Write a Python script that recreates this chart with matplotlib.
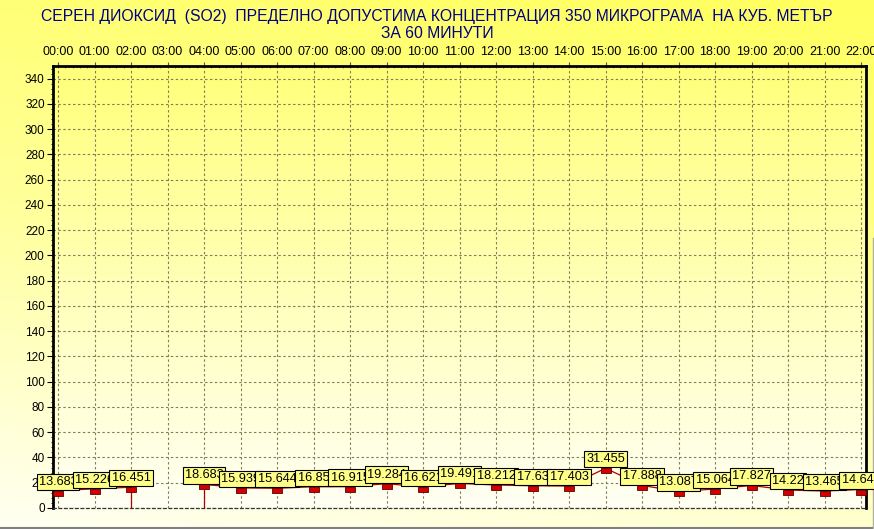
import numpy as np
import matplotlib
matplotlib.use('Agg')
import matplotlib.pyplot as plt
from matplotlib.path import Path
from matplotlib.colors import LinearSegmentedColormap
from matplotlib.ticker import MultipleLocator

plt.rcParams['font.family'] = ['Liberation Sans', 'DejaVu Sans']

# ── data (hourly SO2, µg/m3; 03:00 missing) ─────────────────────────
hours = ['00:00', '01:00', '02:00', '03:00', '04:00', '05:00', '06:00', '07:00',
         '08:00', '09:00', '10:00', '11:00', '12:00', '13:00', '14:00', '15:00',
         '16:00', '17:00', '18:00', '19:00', '20:00', '21:00', '22:00']
values = [13.683, 15.226, 16.451, None, 18.683, 15.939, 15.644, 16.85,
          16.915, 19.284, 16.621, 19.491, 18.212, 17.63, 17.403, 31.455,
          17.888, 13.087, 15.064, 17.827, 14.22, 13.465, 14.645]

title = ('СЕРЕН ДИОКСИД  (SO2)  ПРЕДЕЛНО ДОПУСТИМА КОНЦЕНТРАЦИЯ 350 МИКРОГРАМА  НА КУБ. МЕТЪР\n'
         'ЗА 60 МИНУТИ')

W, H = 874, 529
fig = plt.figure(figsize=(W / 100, H / 100), dpi=100)

# outer background gradient (yellow top -> pale bottom)
bg = fig.add_axes([0, 0, 1, 1], zorder=-10)
outer_cmap = LinearSegmentedColormap.from_list('outer', ['#ffff5e', '#ffff9a', '#fffff2'])
yy = np.linspace(0, 1, 256).reshape(-1, 1)
xx = np.linspace(0, 1, 64).reshape(1, -1)
grad = yy * 0.8 + (1 - xx) * 0.2
bg.imshow(grad, aspect='auto', cmap=outer_cmap, extent=[0, 1, 0, 1], origin='upper')
bg.plot([0, 1], [1.5 / H, 1.5 / H], color='#808080', lw=1.5)
bg.plot([1 - 0.8 / W, 1 - 0.8 / W], [0, 0.55], color='#b0b0a0', lw=1)
bg.set_xlim(0, 1)
bg.set_ylim(0, 1)
bg.axis('off')

# plot area: x 53..866 px, y 66..508 px
left, right, top, bottom = 53, 866, 66, 508
ax = fig.add_axes([left / W, (H - bottom) / H, (right - left) / W, (bottom - top) / H])

x = np.arange(len(hours))
pad = 5 / 36.5
ax.set_xlim(-pad, len(hours) - 1 + pad)
ax.set_ylim(0, 350)

inner_cmap = LinearSegmentedColormap.from_list('inner', ['#ffff7a', '#ffffb8', '#fffff4'])
ax.imshow(np.linspace(0, 1, 256).reshape(-1, 1), aspect='auto', cmap=inner_cmap,
          extent=[-pad, len(hours) - 1 + pad, 0, 350], origin='upper', zorder=0)

# grid
ax.set_xticks(x)
ax.set_xticklabels(hours)
ax.set_yticks(np.arange(0, 341, 20))
ax.yaxis.set_minor_locator(MultipleLocator(4))
ax.xaxis.set_minor_locator(MultipleLocator(0.2))
ax.grid(True, which='major', color='#7f7f58', linestyle=(0, (2.2, 2.2)), lw=0.8, zorder=1)
ax.xaxis.tick_top()
ax.tick_params(axis='x', which='major', top=True, bottom=False, length=3, width=0.8,
               color='#555555', labelsize=9, pad=2.5)
ax.tick_params(axis='x', which='minor', top=True, bottom=False, length=1.5, width=0.6,
               color='#777777', direction='in')
ax.tick_params(axis='y', which='major', length=4, width=0.8, labelsize=8.5, pad=2)
ax.tick_params(axis='y', which='minor', length=1.5, width=0.6)

for s in ('left', 'top', 'right'):
    ax.spines[s].set_linewidth(2)
    ax.spines[s].set_color('black')
ax.spines['bottom'].set_linestyle((0, (2.2, 2.2)))
ax.spines['bottom'].set_linewidth(0.9)
ax.spines['bottom'].set_color('#333333')

# series line; missing hour drops to zero
vals = np.array([np.nan if v is None else v for v in values])
ax.plot(x, vals, color='#b00000', lw=0.9, zorder=3, clip_on=False)
for i, v in enumerate(values):
    if v is None:
        continue
    prev_missing = i > 0 and values[i - 1] is None
    next_missing = i < len(values) - 1 and values[i + 1] is None
    if prev_missing or next_missing:
        ax.plot([x[i], x[i]], [0, v], color='#b00000', lw=0.9, zorder=3)

# markers: small red rectangles hanging under each point
rect = Path([(-1, 0), (1, 0), (1, -1), (-1, -1), (-1, 0)],
            [Path.MOVETO, Path.LINETO, Path.LINETO, Path.LINETO, Path.CLOSEPOLY])
ax.plot(x, vals, linestyle='none', marker=rect, markersize=6.5, markerfacecolor='#d40000',
        markeredgecolor='#600000', markeredgewidth=0.6, zorder=4, clip_on=False)

# value marks
for i, v in enumerate(values):
    if v is None:
        continue
    ax.annotate(f'{v:g}', (x[i], v), xytext=(0, 6.5), textcoords='offset points',
                ha='center', va='center', fontsize=9.2, color='black', zorder=5 + i * 0.01,
                annotation_clip=False,
                bbox=dict(boxstyle='square,pad=0.17', facecolor='#ffff88',
                          edgecolor='black', linewidth=0.8))

fig.text(0.5, 1 - 9 / H, title, ha='center', va='top', fontsize=11.3,
         color='#000080', linespacing=1.15)

plt.savefig('out.png', dpi=100)
